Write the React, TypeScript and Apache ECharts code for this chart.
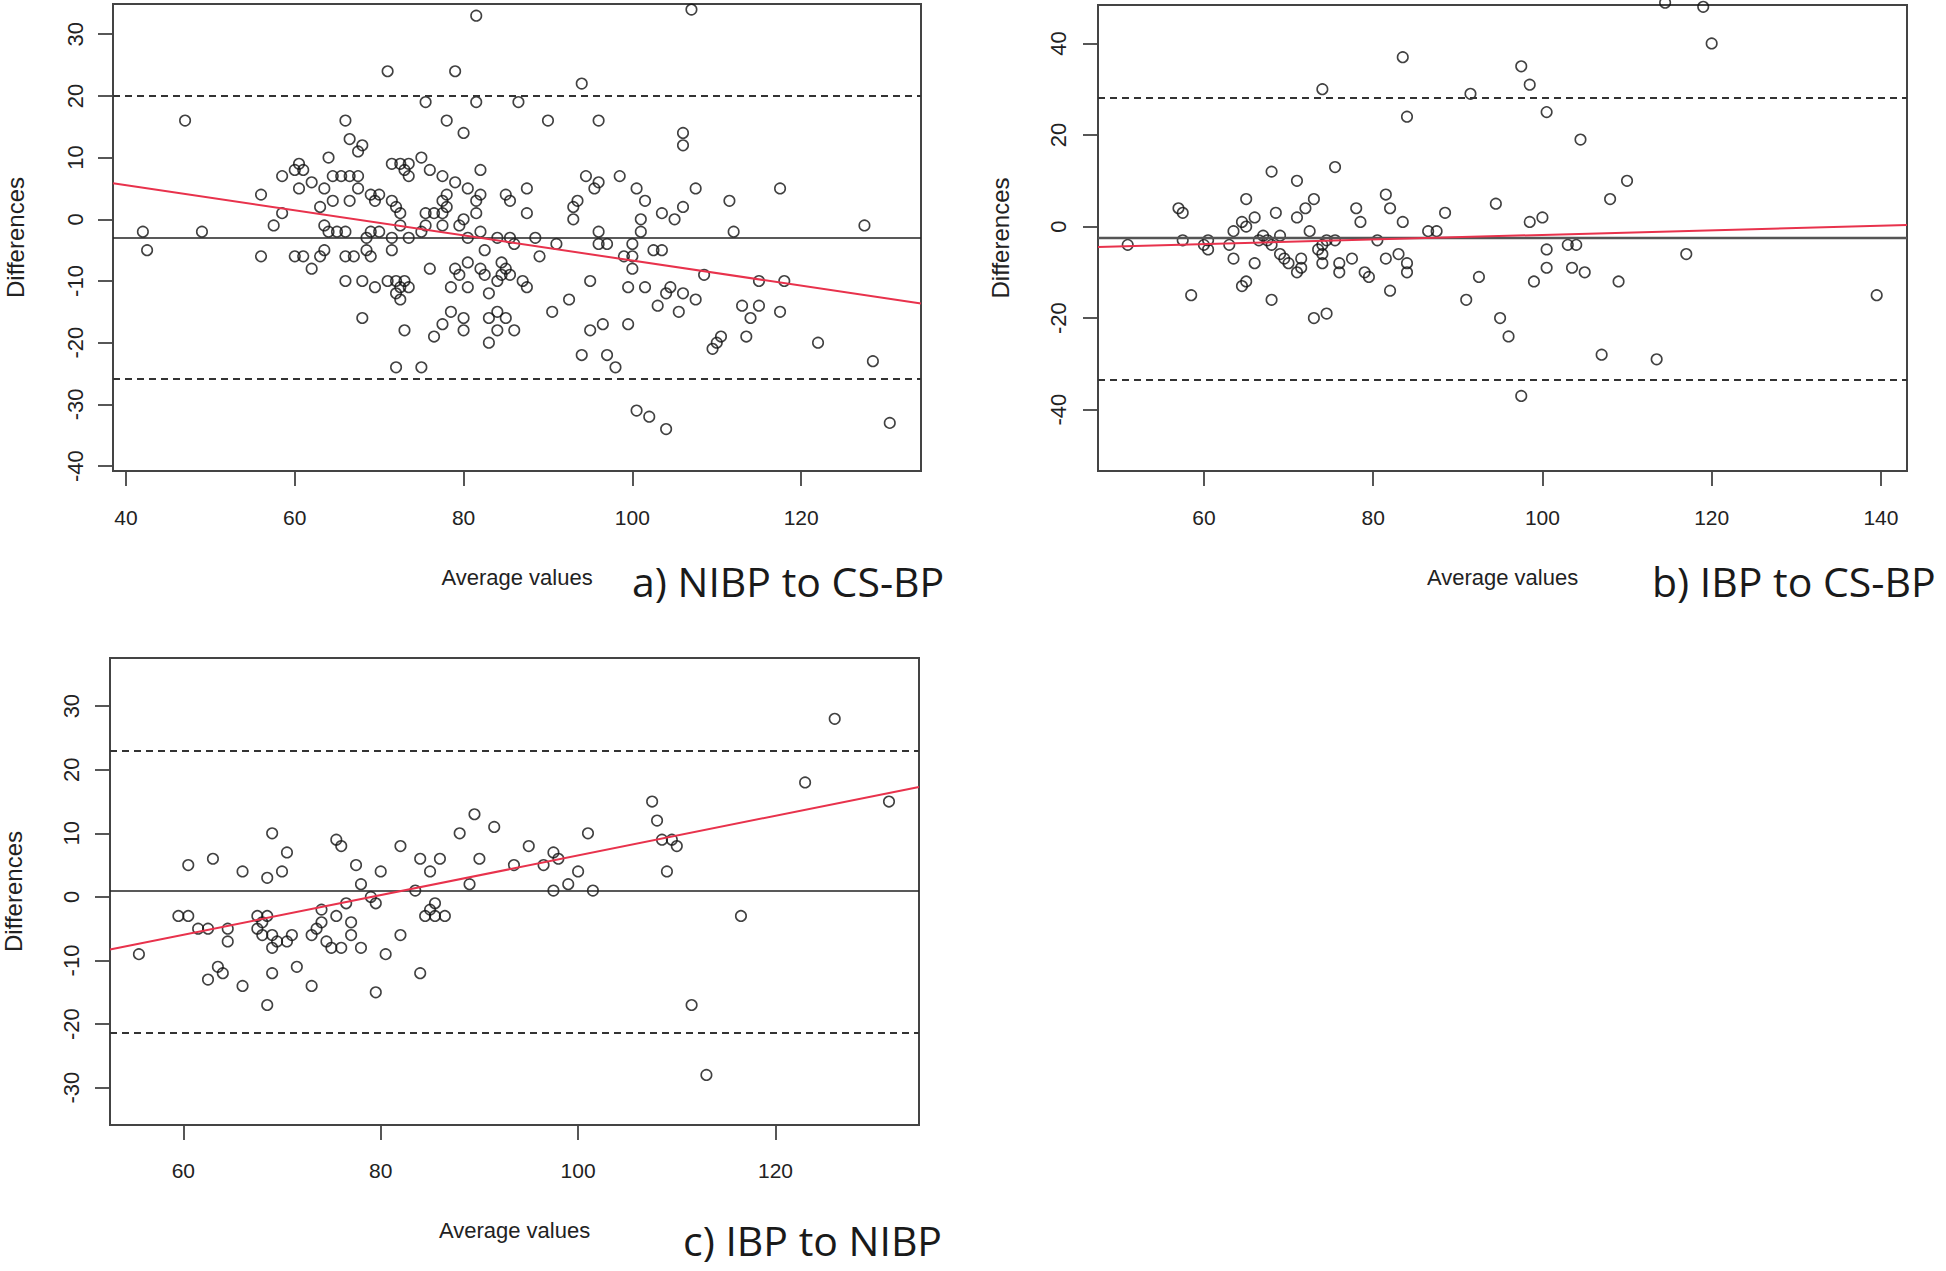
import React, { useEffect, useRef } from "react";
import * as echarts from "echarts";

// ---------- data ----------
const ptsA: number[][] = [
  [81.5,33],[71,24],[79,24],[47,16],[75.5,19],[81.5,19],[78,16],[80,14],[66,16],[66.5,13],[68,12],[67.5,11],[64,10],[75,10],
  [60.5,9],[71.5,9],[72.5,9],[73.5,9],[60,8],[61,8],[73,8],[76,8],[82,8],[58.5,7],[64.5,7],[65.5,7],[66.5,7],[67.5,7],[73.5,7],
  [77.5,7],[62,6],[79,6],[60.5,5],[63.5,5],[67.5,5],[80.5,5],[56,4],[69,4],[70,4],[78,4],[82,4],[64.5,3],[66.5,3],[69.5,3],
  [71.5,3],[77.5,3],[81.5,3],[63,2],[72,2],[78,2],[58.5,1],[72.5,1],[75.5,1],[76.5,1],[77.5,1],[81.5,1],[80,0],[57.5,-1],
  [63.5,-1],[72.5,-1],[75.5,-1],[77.5,-1],[79.5,-1],[42,-2],[49,-2],[64,-2],[65,-2],[66,-2],[69,-2],[70,-2],[75,-2],[82,-2],
  [68.5,-3],[71.5,-3],[73.5,-3],[80.5,-3],[84,-3],[42.5,-5],[63.5,-5],[68.5,-5],[71.5,-5],[82.5,-5],[56,-6],[60,-6],[61,-6],
  [63,-6],[66,-6],[67,-6],[69,-6],[76,-8],[80.5,-7],[62,-8],[79,-8],[82,-8],[79.5,-9],[82.5,-9],[66,-10],[68,-10],[71,-10],
  [72,-10],[73,-10],[84,-10],[69.5,-11],[72.5,-11],[73.5,-11],[78.5,-11],[80.5,-11],[72,-12],[83,-12],[72.5,-13],[78.5,-15],
  [84,-15],[68,-16],[80,-16],[83,-16],[77.5,-17],[73,-18],[80,-18],[84,-18],[76.5,-19],[83,-20],[72,-24],[75,-24],
  [107,34],[94,22],[86.5,19],[90,16],[96,16],[106,14],[106,12],[94.5,7],[96,6],[95.5,5],[98.5,7],[87.5,5],[85,4],[85.5,3],
  [100.5,5],[107.5,5],[117.5,5],[101.5,3],[111.5,3],[93.5,3],[93,2],[106,2],[87.5,1],[103.5,1],[93,0],[101,0],[105,0],
  [127.5,-1],[96,-2],[101,-2],[112,-2],[85.5,-3],[88.5,-3],[86,-4],[91,-4],[96,-4],[97,-4],[100,-4],[102.5,-5],[103.5,-5],
  [89,-6],[99,-6],[100,-6],[84.5,-7],[85,-8],[100,-8],[84.5,-9],[85.5,-9],[108.5,-9],[87,-10],[95,-10],[115,-10],[118,-10],
  [87.5,-11],[99.5,-11],[101.5,-11],[104.5,-11],[104,-12],[106,-12],[92.5,-13],[107.5,-13],[103,-14],[113,-14],[115,-14],
  [90.5,-15],[105.5,-15],[117.5,-15],[85,-16],[114,-16],[96.5,-17],[99.5,-17],[86,-18],[95,-18],[113.5,-19],[110.5,-19],
  [110,-20],[109.5,-21],[122,-20],[94,-22],[97,-22],[98,-24],[128.5,-23],[100.5,-31],[102,-32],[104,-34],[130.5,-33]
];
const ptsB: number[][] = [
  [83.5,37],[74,30],[91.5,29],[84,24],[75.5,13],[68,12],[71,10],[65,6],[73,6],[81.5,7],[94.5,5],[57,4],[72,4],[78,4],[82,4],
  [57.5,3],[68.5,3],[88.5,3],[66,2],[71,2],[64.5,1],[78.5,1],[83.5,1],[65,0],[63.5,-1],[72.5,-1],[86.5,-1],[87.5,-1],[67,-2],
  [69,-2],[57.5,-3],[60.5,-3],[66.5,-3],[67.5,-3],[74.5,-3],[75.5,-3],[80.5,-3],[51,-4],[60,-4],[63,-4],[68,-4],[74,-4],
  [60.5,-5],[73.5,-5],[69,-6],[74,-6],[83,-6],[69.5,-7],[63.5,-7],[71.5,-7],[77.5,-7],[81.5,-7],[70,-8],[66,-8],[74,-8],
  [76,-8],[84,-8],[71.5,-9],[71,-10],[76,-10],[79,-10],[84,-10],[79.5,-11],[92.5,-11],[65,-12],[64.5,-13],[82,-14],
  [58.5,-15],[68,-16],[91,-16],[74.5,-19],[73,-20],[95,-20],
  [114.5,48.9],[119,48],[120,40],[97.5,35],[98.5,31],[100.5,25],[104.5,19],[110,10],[108,6],[98.5,1],[100,2],[103,-4],
  [104,-4],[100.5,-5],[117,-6],[100.5,-9],[103.5,-9],[105,-10],[99,-12],[109,-12],[139.5,-15],[96,-24],[107,-28],
  [113.5,-29],[97.5,-37]
];
const ptsC: number[][] = [
  [55.5,-9],[59.5,-3],[60.5,-3],[60.5,5],[61.5,-5],[62.5,-5],[63,6],[62.5,-13],[63.5,-11],[64,-12],[64.5,-5],[64.5,-7],
  [66,4],[66,-14],[67.5,-3],[67.5,-5],[68,-6],[68.5,3],[68.5,-3],[68,-4],[69,10],[69,-6],[69,-8],[69,-12],[68.5,-17],
  [69.5,-7],[70,4],[70.5,7],[70.5,-7],[71,-6],[71.5,-11],[73,-6],[73,-14],[73.5,-5],[74,-4],[74,-2],[74.5,-7],[75,-8],
  [75.5,9],[76,8],[75.5,-3],[76,-8],[76.5,-1],[77,-4],[77,-6],[77.5,5],[78,2],[78,-8],[79,0],[79.5,-1],[79.5,-15],[80,4],
  [80.5,-9],[82,8],[82,-6],[83.5,1],[84,6],[84,-12],[84.5,-3],[85,4],[85,-2],[85.5,-1],[85.5,-3],[86,6],[86.5,-3],[88,10],
  [89,2],[89.5,13],[90,6],[91.5,11],
  [93.5,5],[95,8],[96.5,5],[97.5,7],[98,6],[97.5,1],[99,2],[100,4],[101,10],[101.5,1],[107.5,15],[108,12],[108.5,9],
  [109.5,9],[110,8],[109,4],[111.5,-17],[113,-28],[116.5,-3],[123,18],[126,28],[131.5,15]
];

// mean and limits of agreement
const meanA = -3, upperA = 20, lowerA = -25.9;
const meanB = -2.5, upperB = 28.2, lowerB = -33.5;
const meanC = 0.9, upperC = 23, lowerC = -21.4;

// regression line end points (at the plot edges)
const regA = [[38.46, 5.85], [134.2, -13.65]];
const regB = [[47.49, -4.45], [143.08, 0.33]];
const regC = [[52.57, -8.28], [134.54, 17.3]];

// axis ranges and ticks
const xRangeA = [38.46, 134.2], yRangeA = [-40.8, 34.9];
const xRangeB = [47.49, 143.08], yRangeB = [-53.4, 48.4];
const xRangeC = [52.57, 134.54], yRangeC = [-35.87, 37.57];
const xTicksA = [40, 60, 80, 100, 120];
const yTicksA = [-40, -30, -20, -10, 0, 10, 20, 30];
const xTicksB = [60, 80, 100, 120, 140];
const yTicksB = [-40, -20, 0, 20, 40];
const xTicksC = [60, 80, 100, 120];
const yTicksC = [-30, -20, -10, 0, 10, 20, 30];

const titles = ["a) NIBP to CS-BP", "b) IBP to CS-BP", "c) IBP to NIBP"];
const xName = "Average values";
const yName = "Differences";

// ---------- layout / style ----------
const FONT = "Liberation Sans, Arial, sans-serif";
const TXT = "#222";
const panels = [
  { pts: ptsA, mean: meanA, up: upperA, lo: lowerA, reg: regA, xr: xRangeA, yr: yRangeA, xt: xTicksA, yt: yTicksA,
    grid: { left: 113, top: 4, width: 808, height: 467 }, xGap: 95, yGap: 86, xMargin: 36, yMargin: 27,
    meanColor: "#222", meanWidth: 1.6, title: { x: 632, y: 581 } },
  { pts: ptsB, mean: meanB, up: upperB, lo: lowerB, reg: regB, xr: xRangeB, yr: yRangeB, xt: xTicksB, yt: yTicksB,
    grid: { left: 1098, top: 5, width: 809, height: 466 }, xGap: 95, yGap: 86, xMargin: 36, yMargin: 29,
    meanColor: "#555", meanWidth: 2.4, title: { x: 1652, y: 581 } },
  { pts: ptsC, mean: meanC, up: upperC, lo: lowerC, reg: regC, xr: xRangeC, yr: yRangeC, xt: xTicksC, yt: yTicksC,
    grid: { left: 110, top: 658, width: 809, height: 467 }, xGap: 94, yGap: 85, xMargin: 35, yMargin: 28,
    meanColor: "#222", meanWidth: 1.6, title: { x: 683, y: 1240 } },
];

function buildOption() {
  const grid: any[] = [];
  const xAxis: any[] = [];
  const yAxis: any[] = [];
  const series: any[] = [];
  const graphic: any[] = [];
  panels.forEach((p, i) => {
    grid.push({
      ...p.grid, show: true, borderColor: "#444", borderWidth: 2, backgroundColor: "transparent",
      containLabel: false, outerBoundsMode: "none",
    });
    xAxis.push({
      type: "value", gridIndex: i, min: p.xr[0], max: p.xr[1],
      axisLine: { show: false, onZero: false },
      splitLine: { show: false },
      axisTick: { show: true, length: 15, customValues: p.xt, lineStyle: { color: "#444", width: 1.8 } },
      axisLabel: { customValues: p.xt, margin: p.xMargin, fontSize: 21, color: TXT, fontFamily: FONT },
      name: xName, nameLocation: "middle", nameGap: p.xGap,
      nameTextStyle: { fontSize: 22, color: TXT, fontFamily: FONT },
    });
    yAxis.push({
      type: "value", gridIndex: i, min: p.yr[0], max: p.yr[1],
      axisLine: { show: false, onZero: false },
      splitLine: { show: false },
      axisTick: { show: true, length: 15, customValues: p.yt, lineStyle: { color: "#444", width: 1.8 } },
      axisLabel: { customValues: p.yt, rotate: 90, margin: p.yMargin, fontSize: 22, color: TXT, fontFamily: FONT },
      name: yName, nameLocation: "middle", nameGap: p.yGap,
      nameTextStyle: { fontSize: 24, color: TXT, fontFamily: FONT },
    });
    series.push({
      type: "scatter", xAxisIndex: i, yAxisIndex: i, data: p.pts, symbol: "circle", symbolSize: 10.5, clip: false,
      itemStyle: { color: "rgba(0,0,0,0)", borderColor: "#111", borderWidth: 1.6 },
      silent: true,
      markLine: {
        silent: true, symbol: "none", label: { show: false },
        data: [
          { yAxis: p.up, lineStyle: { type: [7, 5], color: "#333", width: 1.8 } },
          { yAxis: p.lo, lineStyle: { type: [7, 5], color: "#333", width: 1.8 } },
          { yAxis: p.mean, lineStyle: { type: "solid", color: p.meanColor, width: p.meanWidth } },
        ],
      },
    });
    series.push({
      type: "line", xAxisIndex: i, yAxisIndex: i, data: p.reg, symbol: "none", silent: true,
      lineStyle: { color: "#e8324c", width: 2 }, z: 5,
    });
    graphic.push({
      type: "text", x: p.title.x, y: p.title.y,
      style: { text: titles[i], font: "41px 'Open Sans', sans-serif", fill: "#1a1a1a", textVerticalAlign: "middle" },
    });
  });
  return { animation: false, backgroundColor: "#fff", grid, xAxis, yAxis, series, graphic };
}

export default function App() {
  const ref = useRef<HTMLDivElement>(null);
  useEffect(() => {
    document.body.style.margin = "0";
    const chart = echarts.init(ref.current as HTMLDivElement, null, { renderer: "svg" });
    chart.setOption(buildOption() as any);
    return () => chart.dispose();
  }, []);
  return <div ref={ref} style={{ width: 1946, height: 1271 }} />;
}
